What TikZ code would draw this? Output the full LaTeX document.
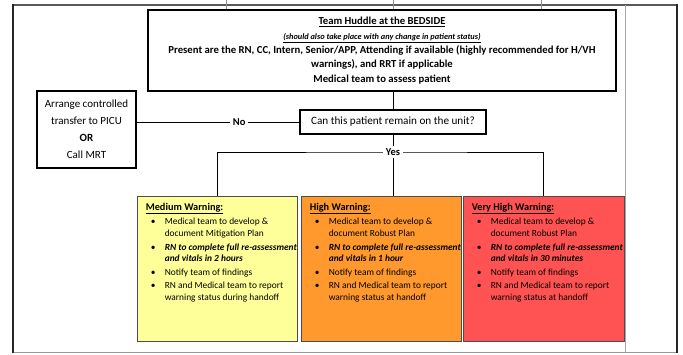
\documentclass[tikz,border=0pt]{standalone}
\usepackage{fontspec}
\setmainfont{Carlito}
\usetikzlibrary{positioning}

\definecolor{medyellow}{RGB}{255,255,153}
\definecolor{highorange}{RGB}{255,153,45}
\definecolor{vhighred}{RGB}{255,82,82}

% bullet and indent for the warning lists
\newcommand{\wbul}{\makebox[19pt][l]{\hspace{5pt}\textbullet}}
\newcommand{\wind}{\hspace*{19pt}}

\tikzset{
	heavybox/.style={draw, line width=1.6pt, align=center, inner sep=0pt},
	warnbox/.style={draw=black!70, line width=0.8pt, minimum width=160pt, minimum height=145pt, inner sep=0pt},
	warntext/.style={align=left, anchor=north west, inner sep=0pt, font=\fontsize{9.4}{11.3}\selectfont},
	link/.style={line width=0.7pt},
	tag/.style={fill=white, inner sep=3pt, font=\bfseries\fontsize{10.5}{12}\selectfont}
}

\begin{document}
\begin{tikzpicture}[x=1pt, y=-1pt]
	\useasboundingbox (0,0) rectangle (683,354);
	
	% Khung trang
	\draw[line width=1.3pt, black!65] (13,5) -- (677,5);
	\draw[line width=1pt, black!40] (13,352) -- (677,352);
	\draw[line width=2.2pt, black!85] (13,4) -- (13,353) (677,4) -- (677,353);
	\draw[line width=0.5pt, black!35] (625,5) -- (625,352);
	\foreach \x in {226,393,541}{
		\draw[line width=0.5pt, black!45] (\x,0) -- (\x,10);
	}
	
	% Hộp chính
	\node[heavybox, minimum width=468pt, minimum height=81pt,
	font=\bfseries\fontsize{10.7}{14.4}\selectfont] (huddle) at (382,50.5)
	{\underline{Team Huddle at the BEDSIDE}\\
		{\fontsize{8.3}{14.4}\selectfont\itshape\underline{(should also take place with any change in patient status)}}\\
		Present are the RN, CC, Intern, Senior/APP, Attending if available (highly recommended for H/VH\\
		warnings), and RRT if applicable\\
		Medical team to assess patient};
	
	\node[heavybox, minimum width=186pt, minimum height=24pt,
	font=\fontsize{11.2}{12}\selectfont] (unit) at (393,122)
	{Can this patient remain on the unit?};
	
	\node[heavybox, minimum width=99pt, minimum height=77pt,
	font=\fontsize{11}{17}\selectfont] (picu) at (86.5,129.5)
	{Arrange controlled\\transfer to PICU\\\textbf{OR}\\Call MRT};
	
	% Hộp cảnh báo
	\node[warnbox, fill=medyellow] (medium) at (217,268.5) {};
	\node[warnbox, fill=highorange] (high) at (381,268.5) {};
	\node[warnbox, fill=vhighred, minimum width=161pt] (vhigh) at (543.5,268.5) {};
	
	\node[warntext] (mediumtxt) at ([xshift=9pt, yshift=-7pt]medium.north west)
	{{\fontsize{10.3}{11.3}\selectfont\bfseries\underline{Medium Warning:}}\\[3.6pt]
		\wbul Medical team to develop \&\\
		\wind document Mitigation Plan\\[2.5pt]
		\wbul \textbf{\textit{RN to complete full re-assessment}}\\
		\wind \textbf{\textit{and vitals in 2 hours}}\\[2.5pt]
		\wbul Notify team of findings\\[2.5pt]
		\wbul RN and Medical team to report\\
		\wind warning status during handoff};
	
	\node[warntext] (hightxt) at ([xshift=9pt, yshift=-7pt]high.north west)
	{{\fontsize{10.3}{11.3}\selectfont\bfseries\underline{High Warning:}}\\[3.6pt]
		\wbul Medical team to develop \&\\
		\wind document Robust Plan\\[2.5pt]
		\wbul \textbf{\textit{RN to complete full re-assessment}}\\
		\wind \textbf{\textit{and vitals in 1 hour}}\\[2.5pt]
		\wbul Notify team of findings\\[2.5pt]
		\wbul RN and Medical team to report\\
		\wind warning status at handoff};
	
	\node[warntext] (vhightxt) at ([xshift=9pt, yshift=-7pt]vhigh.north west)
	{{\fontsize{10.3}{11.3}\selectfont\bfseries\underline{Very High Warning:}}\\[3.6pt]
		\wbul Medical team to develop \&\\
		\wind document Robust Plan\\[2.5pt]
		\wbul \textbf{\textit{RN to complete full re-assessment}}\\
		\wind \textbf{\textit{and vitals in 30 minutes}}\\[2.5pt]
		\wbul Notify team of findings\\[2.5pt]
		\wbul RN and Medical team to report\\
		\wind warning status at handoff};
	
	% Nối
	\draw[link] (huddle.south -| unit.north) -- (unit.north);
	\draw[link] (unit.west) -- (unit.west -| picu.east)
	node[tag, pos=0.37] (no) {No};
	
	\coordinate (split) at (393,152);
	\draw[link] (unit.south) -- (unit.south |- high.north);
	\draw[link] (medium.north) |- (split) -| (vhigh.north);
	\node[tag] (yes) at (split) {Yes};
\end{tikzpicture}
\end{document}
